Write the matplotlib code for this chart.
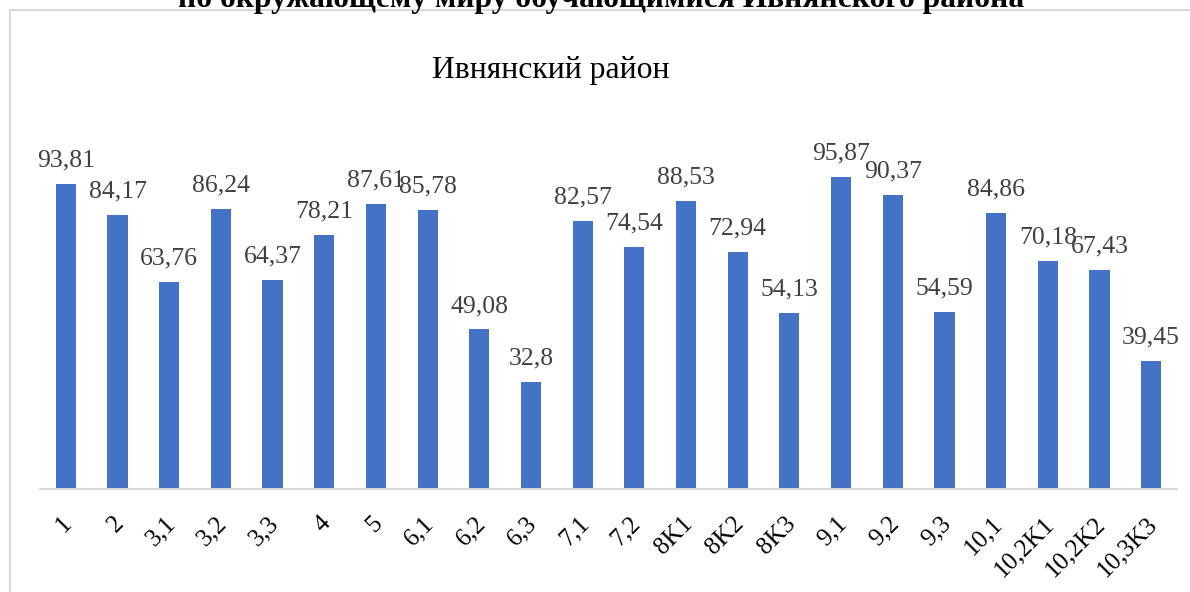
import matplotlib.pyplot as plt
import matplotlib.transforms as mtransforms
from matplotlib.lines import Line2D
import numpy as np

plt.rcParams['font.family'] = ['Liberation Serif', 'DejaVu Serif']

# Итоги ВПР по окружающему миру, Ивнянский район
labels = ['1', '2', '3,1', '3,2', '3,3', '4', '5', '6,1', '6,2', '6,3', '7,1',
          '7,2', '8K1', '8K2', '8K3', '9,1', '9,2', '9,3', '10,1', '10,2K1',
          '10,2K2', '10,3K3']
values = [93.81, 84.17, 63.76, 86.24, 64.37, 78.21, 87.61, 85.78, 49.08, 32.8,
          82.57, 74.54, 88.53, 72.94, 54.13, 95.87, 90.37, 54.59, 84.86, 70.18,
          67.43, 39.45]

fig = plt.figure(figsize=(11.9, 5.92), dpi=100)
ax = fig.add_axes([40 / 1190, 103 / 592, 1137 / 1190, 357.5 / 592])

x = np.arange(len(labels))
bars = ax.bar(x, values, width=0.39, color='#4472c4', zorder=2)

for xi, v in zip(x, values):
    txt = ('%g' % v).replace('.', ',')
    ax.annotate(txt, (xi, v), xytext=(0, 9), textcoords='offset points',
                ha='center', va='bottom', fontsize=18.5, color='#404040')

ax.set_xlim(-0.5, len(labels) - 0.5)
ax.set_ylim(0, 110)
ax.set_yticks([])
ax.set_xticks(x)
ax.set_xticklabels(labels, rotation=45, ha='right', rotation_mode='anchor',
                   fontsize=18, color='#000000')
ax.tick_params(axis='x', length=0, pad=14)

# подписи оси чуть левее и ниже
shift = mtransforms.ScaledTranslation(-5 / 100, -4 / 100, fig.dpi_scale_trans)
for lbl in ax.get_xticklabels():
    lbl.set_transform(lbl.get_transform() + shift)

for side in ['top', 'right', 'left']:
    ax.spines[side].set_visible(False)
ax.spines['bottom'].set_color('#d9d9d9')
ax.spines['bottom'].set_linewidth(1.5)

# рамка области диаграммы
fig.add_artist(Line2D([10 / 1190, 1.0], [1 - 10 / 592] * 2, color='#d9d9d9', lw=1.5))
fig.add_artist(Line2D([10 / 1190] * 2, [0, 1 - 10 / 592], color='#d9d9d9', lw=1.5))

fig.text(551 / 1190, 1 - 78 / 592, 'Ивнянский район', ha='center', va='baseline',
         fontsize=22.8, color='#000000')
fig.text(601 / 1190, 1 - 7 / 592,
         'по окружающему миру обучающимися Ивнянского района',
         ha='center', va='baseline', fontsize=22.7, fontweight='bold', color='#000000')

fig.savefig('out.png', dpi=100)
